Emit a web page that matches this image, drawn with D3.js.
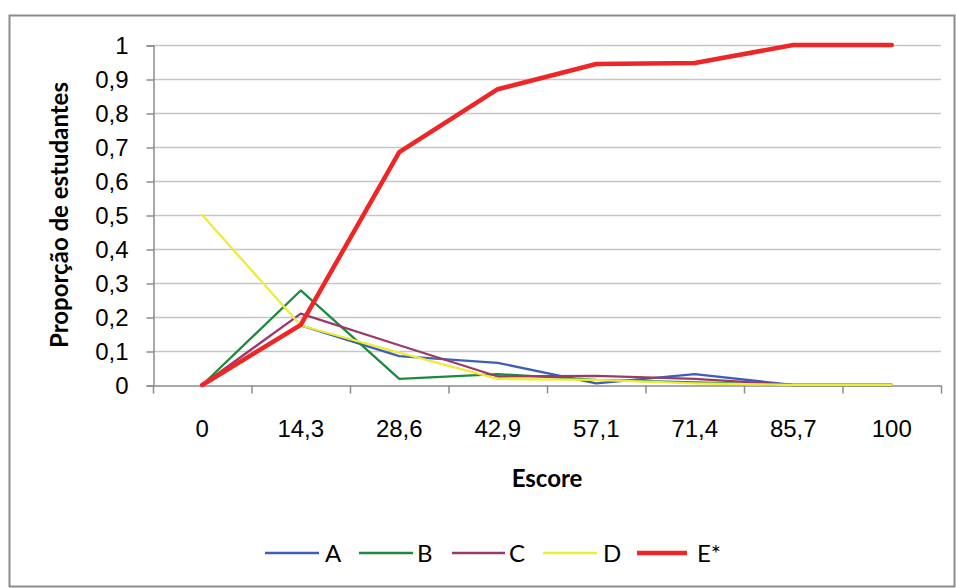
<!DOCTYPE html>
<html><head><meta charset="utf-8">
<script src="https://cdn.jsdelivr.net/npm/d3@7"></script>
<style>body{margin:0;background:#fff;} svg{display:block;font-family:Lato,"Open Sans",sans-serif;}</style>
</head><body>
<svg id="c" width="956" height="588"></svg>
<script>
const categories = ["0","14,3","28,6","42,9","57,1","71,4","85,7","100"];
const seriesNames = ["A","B","C","D","E*"];
const valuesA = [0, 0.175, 0.085, 0.065, 0.005, 0.032, 0, 0];
const valuesB = [0, 0.278, 0.018, 0.032, 0.015, 0.008, 0, 0];
const valuesC = [0, 0.21, 0.117, 0.025, 0.027, 0.018, 0, 0];
const valuesD = [0.5, 0.175, 0.095, 0.018, 0.015, 0.005, 0, 0];
const valuesE = [0, 0.177, 0.685, 0.87, 0.944, 0.947, 1, 1];
const yTicks = [0,0.1,0.2,0.3,0.4,0.5,0.6,0.7,0.8,0.9,1];
const yTickLabels = ["0","0,1","0,2","0,3","0,4","0,5","0,6","0,7","0,8","0,9","1"];

const series = [
  {name:seriesNames[0], values:valuesA, color:"#3f5fb4", width:2.3},
  {name:seriesNames[1], values:valuesB, color:"#1e8a3e", width:2.3},
  {name:seriesNames[2], values:valuesC, color:"#993a6c", width:2.3},
  {name:seriesNames[3], values:valuesD, color:"#ecec3c", width:2.3},
  {name:seriesNames[4], values:valuesE, color:"#ee2626", width:4.5}
];

const svg = d3.select("#c");
svg.append("rect").attr("x",9.5).attr("y",15.5).attr("width",945).attr("height",571)
  .attr("fill","#fff").attr("stroke","#8c8c8c").attr("stroke-width",2);

const L=153, R=941, T=45, B=385;
const FS=24;
const x = d3.scaleBand().domain(categories).range([L,R]);
const y = d3.scaleLinear().domain([0,1]).range([B,T]);

// gridlines
svg.append("g").selectAll("line").data(yTicks.slice(1)).join("line")
  .attr("x1",L).attr("x2",R).attr("y1",d=>y(d)+0.5).attr("y2",d=>y(d)+0.5)
  .attr("stroke","#c6c6c6").attr("stroke-width",1.3);

// y axis
const yAxis = d3.axisLeft(y).tickValues(yTicks).tickFormat((d,i)=>yTickLabels[i]).tickSize(7).tickPadding(18);
const gy = svg.append("g").attr("transform",`translate(${L+0.5},0.5)`).call(yAxis);
gy.select(".domain").attr("stroke","#8c8c8c").attr("stroke-width",1.5);
gy.selectAll(".tick line").attr("stroke","#8c8c8c").attr("stroke-width",1.5);
gy.selectAll("text").attr("font-size",FS).attr("fill","#000");

// x axis
const xAxis = d3.axisBottom(x).tickSize(0).tickPadding(34);
const gx = svg.append("g").attr("transform",`translate(0,${B+0.5})`).call(xAxis);
gx.select(".domain").attr("stroke","#8c8c8c").attr("stroke-width",1.5);
gx.selectAll("text").attr("font-size",FS).attr("fill","#000");
const bounds = categories.map(c=>x(c)).concat([R]);
gx.append("g").selectAll("line").data(bounds).join("line")
  .attr("x1",d=>d+0.5).attr("x2",d=>d+0.5).attr("y1",0).attr("y2",8)
  .attr("stroke","#8c8c8c").attr("stroke-width",1.5);

// titles
svg.append("text").attr("x",(L+R)/2).attr("y",487).attr("text-anchor","middle")
  .attr("font-size",FS).attr("font-weight","bold").text("Escore");
svg.append("text").attr("transform",`translate(68,${(T+B)/2}) rotate(-90)`).attr("text-anchor","middle")
  .attr("font-size",FS).attr("font-weight","bold").text("Proporção de estudantes");

// lines
const line = d3.line().x((d,i)=>x(categories[i])+x.bandwidth()/2).y(d=>y(d));
svg.append("g").selectAll("path").data(series).join("path")
  .attr("d",d=>line(d.values)).attr("fill","none")
  .attr("stroke",d=>d.color).attr("stroke-width",d=>d.width)
  .attr("stroke-linejoin","round").attr("stroke-linecap","round");

// legend
const legLine = [[265,319],[359,413],[452,505],[543,597],[637,687]];
const legText = [325,417,509,603,697];
const lg = svg.append("g").selectAll("g").data(series).join("g");
lg.append("line").attr("x1",(d,i)=>legLine[i][0]).attr("x2",(d,i)=>legLine[i][1])
  .attr("y1",553).attr("y2",553)
  .attr("stroke",d=>d.color).attr("stroke-width",d=>d.width);
lg.append("text").attr("x",(d,i)=>legText[i]).attr("y",562).attr("font-size",FS).text(d=>d.name);
</script>
</body></html>
